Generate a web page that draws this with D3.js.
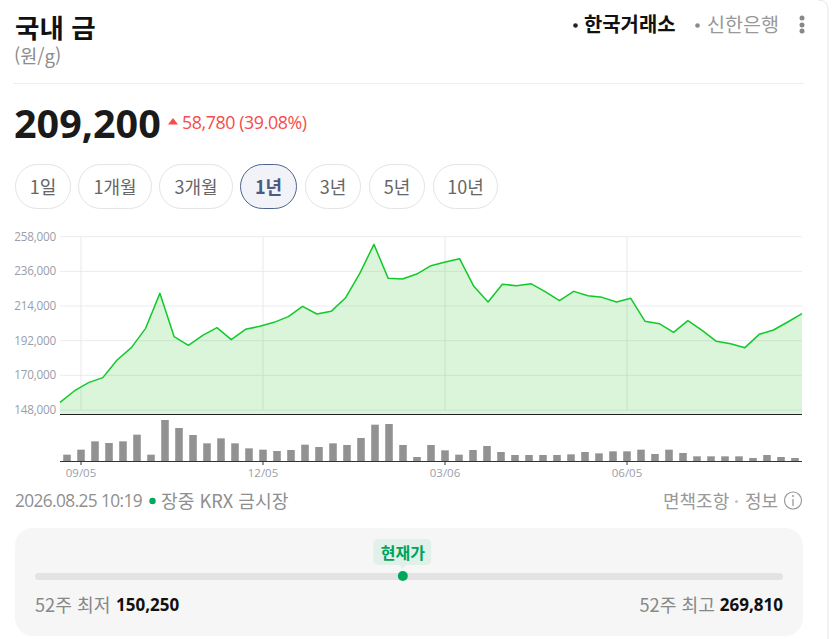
<!DOCTYPE html>
<html lang="ko">
<head>
<meta charset="utf-8">
<script src="https://cdnjs.cloudflare.com/ajax/libs/d3/7.8.5/d3.min.js"></script>
<style>
html,body{margin:0;padding:0;background:#fff;overflow:hidden}
svg{display:block}
text{font-family:"Noto Sans CJK KR","Noto Sans",sans-serif}
.num{font-family:"Open Sans","Noto Sans CJK KR",sans-serif}
</style>
</head>
<body>
<svg id="c" width="840" height="639"></svg>
<script>
const prices=[152880,160075,165360,168535,179745,187570,199840,222045,194550,189050,195400,200260,192650,199200,201100,203640,207240,213800,208930,210620,219080,234520,253135,231560,231140,234310,239600,241930,244040,226490,216550,227760,226910,228180,223100,217390,223310,220560,219510,216550,218870,204280,202800,197300,204700,198570,191590,190110,187570,196030,198780,203860,209200];
const volumes=[19,34,59,54,59,79,19,123,99,78,53,68,53,38,34,30,33,49,42,53,48,69,109,111,48,12,48,32,19,33,45,27,18,18,18,18,20,27,23,29,29,34,21,34,24,14,14,14,14,9,18,12,9];
const yTicks=[148000,170000,192000,214000,236000,258000];
const xTickIdx=[1,14,27,40];
const xTickLabels=["09/05","12/05","03/06","06/05"];
const ranges=["1일","1개월","3개월","1년","3년","5년","10년"];
const rangeEdges=[[15,71],[78,152],[159,233],[240,297],[305,361],[369,425],[433,498]];
const activeRange="1년";
const current=209200, low52=150250, high52=269810;

const svg=d3.select("#c");
const T=(x,y,s,o={})=>svg.append("text").attr("x",x).attr("y",y).text(s)
  .attr("font-size",o.size||18).attr("font-weight",o.weight||400).attr("fill",o.fill||"#888")
  .attr("text-anchor",o.anchor||"start").attr("class",o.cls||null).style("letter-spacing",o.ls||null);

// card edge
svg.append("path").attr("d","M818 0 Q828 0 828 10 V639").attr("fill","none").attr("stroke","#e6e6e6");

// header
T(15,38,"국내 금",{size:26.5,weight:700,fill:"#111"});
T(14,63,"(원/g)",{size:18.5,fill:"#8c8c8c"});
svg.append("circle").attr("cx",575.5).attr("cy",25.5).attr("r",2.3).attr("fill","#222");
T(584,31.5,"한국거래소",{size:19.9,weight:700,fill:"#111"});
svg.append("circle").attr("cx",697.5).attr("cy",25.5).attr("r",2.3).attr("fill","#8a8a8a");
T(707,31.5,"신한은행",{size:19.6,fill:"#999"});
[18,25,31].forEach(y=>svg.append("circle").attr("cx",802).attr("cy",y).attr("r",2.5).attr("fill","#888"));
svg.append("line").attr("x1",13).attr("x2",804).attr("y1",83.5).attr("y2",83.5).attr("stroke","#eee");

// price
T(14,138,d3.format(",")(current),{size:39.5,weight:700,fill:"#1a1a1a",cls:"num"});
svg.append("path").attr("d","M168 124.5 L173 118 L178 124.5 Z").attr("fill","#f64c4c");
T(182,129,"58,780 (39.08%)",{size:17.8,fill:"#f64c4c",cls:"num",ls:"-0.4px"});

// range pills
ranges.forEach((r,i)=>{
  const [a,b]=rangeEdges[i], on=r===activeRange;
  svg.append("rect").attr("x",a+.5).attr("y",164.5).attr("width",b-a-1).attr("height",44).attr("rx",22)
    .attr("fill",on?"#f1f3f8":"#fff").attr("stroke",on?"#4f6391":"#e4e4e4");
  T((a+b)/2,193.5,r,{size:18,anchor:"middle",weight:on?700:400,fill:on?"#4a5a80":"#666"});
});

// chart
const x0=60,x1=802;
const y=d3.scaleLinear().domain([148000,258000]).range([410,236.7]);
const xp=d3.scalePoint().domain(d3.range(prices.length)).range([x0,x1]);
const xb=d3.scaleBand().domain(d3.range(volumes.length)).range([x0,x1]).paddingInner(.46).paddingOuter(.23);
const vy=d3.scaleLinear().domain([0,123]).range([461,420]);

const gridG=svg.append("g");
yTicks.forEach(t=>gridG.append("line").attr("x1",x0).attr("x2",x1).attr("y1",y(t)).attr("y2",y(t)).attr("stroke","#ececf0"));
xTickIdx.forEach(i=>{const x=xb(i)+xb.bandwidth()/2;gridG.append("line").attr("x1",x).attr("x2",x).attr("y1",y(258000)).attr("y2",y(148000)).attr("stroke","#e6e8ea")});

svg.append("path").datum(prices)
  .attr("d",d3.area().x((d,i)=>xp(i)).y0(414).y1(d=>y(d)))
  .attr("fill","#24c124").attr("fill-opacity",.17);
svg.append("path").datum(prices)
  .attr("d",d3.line().x((d,i)=>xp(i)).y(d=>y(d)))
  .attr("fill","none").attr("stroke","#12c92a").attr("stroke-width",1.5).attr("stroke-linejoin","round");

const yAxisFmt=d3.format(",");
yTicks.forEach(t=>T(56,y(t)+4,yAxisFmt(t),{size:11.7,anchor:"end",fill:"#9a9ea8",cls:"num",ls:"-0.2px"}));

svg.append("line").attr("x1",x0).attr("x2",x1).attr("y1",414.5).attr("y2",414.5).attr("stroke","#222").attr("stroke-width",1);

svg.append("g").selectAll("rect").data(volumes).join("rect")
  .attr("x",(d,i)=>xb(i)).attr("width",xb.bandwidth())
  .attr("y",d=>vy(d)).attr("height",d=>461-vy(d)).attr("fill","#929292");
svg.append("line").attr("x1",x0).attr("x2",x1).attr("y1",461.5).attr("y2",461.5).attr("stroke","#333");
xTickIdx.forEach((i,k)=>{
  const x=xb(i)+xb.bandwidth()/2;
  svg.append("line").attr("x1",x).attr("x2",x).attr("y1",461).attr("y2",465).attr("stroke","#333");
  T(x,477,xTickLabels[k],{size:11.5,anchor:"middle",fill:"#9a9ea8",cls:"num"});
});

// footer line
T(15,507,"2026.08.25 10:19",{size:17.3,fill:"#8f8f8f",cls:"num",ls:"-0.6px"});
svg.append("circle").attr("cx",152.5).attr("cy",501).attr("r",3.2).attr("fill","#00a85a");
T(161,507.5,"장중 KRX 금시장",{size:18.2,fill:"#8f8f8f"});
T(663,507.5,"면책조항",{size:18,fill:"#999"});
svg.append("circle").attr("cx",736.5).attr("cy",501.5).attr("r",1.5).attr("fill","#c4c4c4");
T(745,507.5,"정보",{size:18,fill:"#999"});
svg.append("circle").attr("cx",793).attr("cy",500.5).attr("r",8.5).attr("fill","none").attr("stroke","#999").attr("stroke-width",1.2);
svg.append("circle").attr("cx",793).attr("cy",496).attr("r",1).attr("fill","#999");
svg.append("line").attr("x1",793).attr("x2",793).attr("y1",499).attr("y2",506).attr("stroke","#999").attr("stroke-width",1.3);

// 52 week panel
svg.append("rect").attr("x",15).attr("y",528).attr("width",788).attr("height",108).attr("rx",18).attr("fill","#f6f6f6");
const sx=d3.scaleLinear().domain([low52,high52]).range([34,782]);
svg.append("rect").attr("x",35).attr("y",573).attr("width",748).attr("height",7).attr("rx",3.5).attr("fill","#e3e3e3");
const cx=sx(current);
svg.append("rect").attr("x",cx-29.5).attr("y",539).attr("width",58).attr("height",26).attr("rx",5).attr("fill","#e1f0e9");
svg.append("path").attr("d",`M${cx-3} 565 L${cx} 569 L${cx+3} 565 Z`).attr("fill","#e1f0e9");
T(cx,558.5,"현재가",{size:16,weight:700,anchor:"middle",fill:"#00a35a"});
svg.append("circle").attr("cx",cx).attr("cy",576).attr("r",5).attr("fill","#00a85a");
T(35,611.5,"52주 최저",{size:18.2,fill:"#888"});
T(116,611,d3.format(",")(low52),{size:17,weight:700,fill:"#111",cls:"num"});
T(715,611.5,"52주 최고",{size:18.2,anchor:"end",fill:"#888"});
T(783,611,d3.format(",")(high52),{size:17,weight:700,anchor:"end",fill:"#111",cls:"num"});
</script>
</body>
</html>
